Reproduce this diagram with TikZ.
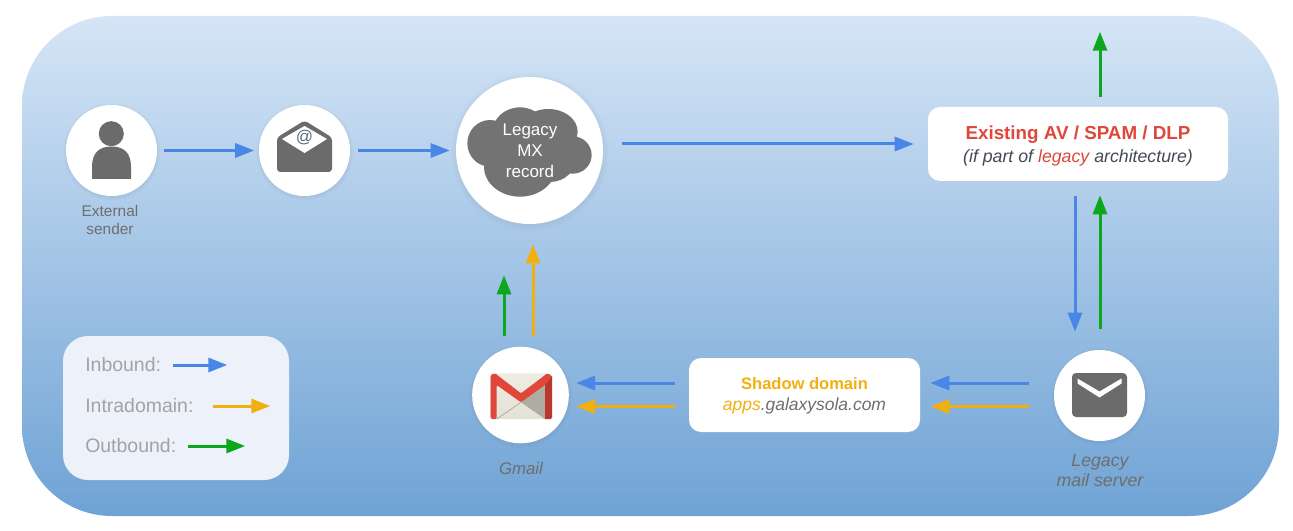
\documentclass[tikz,border=0pt]{standalone}
\usepackage{fontspec}
\setmainfont{Liberation Sans}
\usetikzlibrary{arrows.meta,calc,shadows,fadings}
\definecolor{inblue}{HTML}{4A86E8}
\definecolor{intra}{HTML}{F1B00F}
\definecolor{outgreen}{HTML}{0BA81E}
\definecolor{bgtop}{HTML}{D5E5F6}
\definecolor{bgbot}{HTML}{6FA3D5}
\definecolor{icon}{HTML}{6B6B6B}
\definecolor{cloudc}{HTML}{737373}
\definecolor{redtxt}{HTML}{E0463A}
\definecolor{darkred}{HTML}{B8382D}
\definecolor{legendbg}{HTML}{EDF1F9}
\definecolor{legendtxt}{HTML}{A3A3A3}
\definecolor{labeltxt}{HTML}{6E6E6E}
\definecolor{slate}{HTML}{434A55}
\definecolor{creamtop}{HTML}{EFECE2}
\definecolor{creambot}{HTML}{E4E1D6}
\definecolor{foldc}{HTML}{AEADA3}
\definecolor{atc}{HTML}{5F6B7C}
\tikzset{
  flow/.style={line width=2.25pt,-{Triangle[length=14.25pt,width=10.5pt]}},
  inflow/.style={flow,color=inblue},
  intraflow/.style={flow,color=intra},
  outflow/.style={flow,color=outgreen},
  softshadow/.style={circular drop shadow={shadow xshift=0pt,shadow yshift=-.6pt,shadow scale=1.08,opacity=.14,fill=black!70}},
  disc/.style={circle,fill=white,inner sep=0pt,softshadow},
  card/.style={rectangle,fill=white,rounded corners=9pt,inner sep=0pt,align=center},
  lab/.style={align=center,inner sep=0pt,color=labeltxt},
  legendlab/.style={anchor=west,inner sep=0pt,color=legendtxt,font=\fontsize{14.6}{17}\selectfont},
}
\begin{document}
\begin{tikzpicture}[x=.75pt,y=-.75pt]
\useasboundingbox (0,0) rectangle (1293,531);
\fill[white] (0,0) rectangle (1293,531);
\shade[top color=bgtop,bottom color=bgbot,rounded corners=67.5pt] (22,16) rectangle (1279,516);

% discs and cards
\node[disc,minimum size=68.25pt] (sender) at (111.5,150.5) {};
\node[disc,minimum size=68.25pt] (mail) at (304.5,150.5) {};
\node[disc,minimum size=110.25pt] (mx) at (529.5,150.5) {};
\node[disc,minimum size=72.5pt] (gmail) at (520.5,395) {};
\node[disc,minimum size=68.25pt] (server) at (1099.5,395.5) {};
\node[card,minimum width=225pt,minimum height=55.5pt] (av) at (1078,144) {};
\node[card,minimum width=173.25pt,minimum height=55.5pt] (shadow) at (804.5,395) {};
\node[rectangle,fill=legendbg,rounded corners=18.75pt,minimum width=169.5pt,minimum height=108pt,inner sep=0pt] (legend) at (176,408) {};

% person icon
\fill[icon] (111.3,133.7) circle[radius=9.4pt];
\fill[icon] (92,179) -- (92,167) .. controls (92,153) and (99,146.5) .. (111.5,146.5)
  .. controls (124,146.5) and (131,153) .. (131,167) -- (131,179) -- cycle;

% open envelope icon
\fill[icon,rounded corners=2.5pt] (277,137.5) -- (304.5,120.5) -- (332,137.5) -- (332,172) -- (277,172) -- cycle;
\fill[white] (282,139) -- (304.5,126) -- (327,139) -- (304.5,153) -- cycle;
\node[inner sep=0pt,color=atc,font=\fontsize{12.75}{14}\selectfont] (atsign) at (304.5,137.5) {@};

% cloud icon
\begin{scope}[shift={(440,60)},x=.25pt,y=-.25pt]
\fill[cloudc] (150,250) ellipse[x radius=17pt,y radius=17.5pt];
\fill[cloudc] (240,220) ellipse[x radius=21pt,y radius=19.5pt];
\fill[cloudc] (325,215) ellipse[x radius=22pt,y radius=17pt];
\fill[cloudc] (398,285) ellipse[x radius=14.25pt,y radius=14pt];
\fill[cloudc] (240,320) ellipse[x radius=27pt,y radius=22.5pt];
\fill[cloudc] (330,290) ellipse[x radius=20pt,y radius=19pt];
\end{scope}
\node[inner sep=0pt,align=center,text=white,font=\fontsize{12.75}{15.75}\selectfont] (mxlab) at (530,151) {Legacy\\MX\\record};

% gmail icon
\begin{scope}[shift={(460,340)},x=.25pt,y=-.25pt]
\shade[top color=creamtop,bottom color=creambot,rounded corners=1.5pt] (92,100) rectangle (276,237);
\fill[foldc] (183,187) -- (255,135) -- (255,237) -- cycle;
\draw[foldc,line width=.6pt] (183,187) -- (110,237);
\fill[darkred] (255,120) -- (276,108) -- (276,232) -- (272,237) -- (255,237) -- cycle;
\fill[redtxt,rounded corners=1pt] (92,237) -- (92,105) -- (105,100) -- (183,160) -- (262,100) -- (276,108) -- (255,135) -- (183,187) -- (110,135) -- (110,237) -- cycle;
\end{scope}

% mail server icon
\fill[icon,rounded corners=3pt] (1072,373) rectangle (1127,417);
\fill[white] (1077.5,378.5) -- (1099.5,391.5) -- (1121.5,378.5) -- (1121.5,383.5) -- (1099.5,397.5) -- (1077.5,383.5) -- cycle;

% card text
\node[inner sep=0pt,align=center,font=\fontsize{14.1}{17.2}\selectfont,text=slate] (avlab) at (1078,146)
  {\textcolor{redtxt}{\textbf{Existing AV / SPAM / DLP}}\\{\fontsize{13.3}{17.2}\selectfont\itshape (if part of \textcolor{redtxt}{legacy} architecture)}};
\node[inner sep=0pt,align=center,font=\fontsize{12.4}{15.75}\selectfont,text=labeltxt] (shlab) at (804.5,396)
  {\textcolor{intra}{\textbf{Shadow domain}}\\{\fontsize{13.1}{15.75}\selectfont\itshape\textcolor{intra}{apps}.galaxysola.com}};

% labels
\node[lab,font=\fontsize{11.6}{13.5}\selectfont] (senderlab) at (110,220) {External\\sender};
\node[lab,font=\fontsize{12.6}{14}\itshape\selectfont] (gmaillab) at (521,468) {Gmail};
\node[lab,font=\fontsize{13.3}{15}\itshape\selectfont] (serverlab) at (1100,470) {Legacy\\mail server};

% legend
\node[legendlab] (lin) at (85,365) {Inbound:};
\node[legendlab] (lintra) at (85,406) {Intradomain:};
\node[legendlab] (lout) at (85,446) {Outbound:};
\draw[inflow] ($(legend.east)+(-116,-43)$) -- ($(legend.east)+(-62,-43)$);
\draw[intraflow] ($(legend.east)+(-76,-2)$) -- ($(legend.east)+(-19,-2)$);
\draw[outflow] ($(legend.east)+(-101,38)$) -- ($(legend.east)+(-44,38)$);

% connectors
\draw[inflow] ($(sender.east)+(7,0)$) -- ($(mail.west)+(-4.5,0)$);
\draw[inflow] ($(mail.east)+(8,0)$) -- ($(mx.west)+(-6,0)$);
\draw[inflow] ($(mx.east)+(19,-6.5)$) -- ($(av.west)+(-14,0)$);
\draw[outflow] ($(av.north)+(22,-10)$) -- ($(av.north)+(22,-75)$);
\draw[inflow] ($(av.south)+(-3,15)$) -- ($(server.north)+(-24.5,-18)$);
\draw[outflow] ($(server.north)+(.5,-21)$) -- ($(av.south)+(22,14)$);
\draw[inflow] ($(server.west)+(-25,-12.5)$) -- ($(shadow.east)+(10,-12)$);
\draw[intraflow] ($(server.west)+(-25,11)$) -- ($(shadow.east)+(10,11.5)$);
\draw[inflow] ($(shadow.west)+(-14,-12)$) -- ($(gmail.east)+(7,-12)$);
\draw[intraflow] ($(shadow.west)+(-14,11.5)$) -- ($(gmail.east)+(7,11.5)$);
\draw[outflow] ($(gmail.north)+(-16.5,-10)$) -- ($(gmail.north)+(-16.5,-71)$);
\draw[intraflow] ($(gmail.north)+(12.5,-10)$) -- ($(mx.south)+(3.5,20)$);
\end{tikzpicture}
\end{document}
